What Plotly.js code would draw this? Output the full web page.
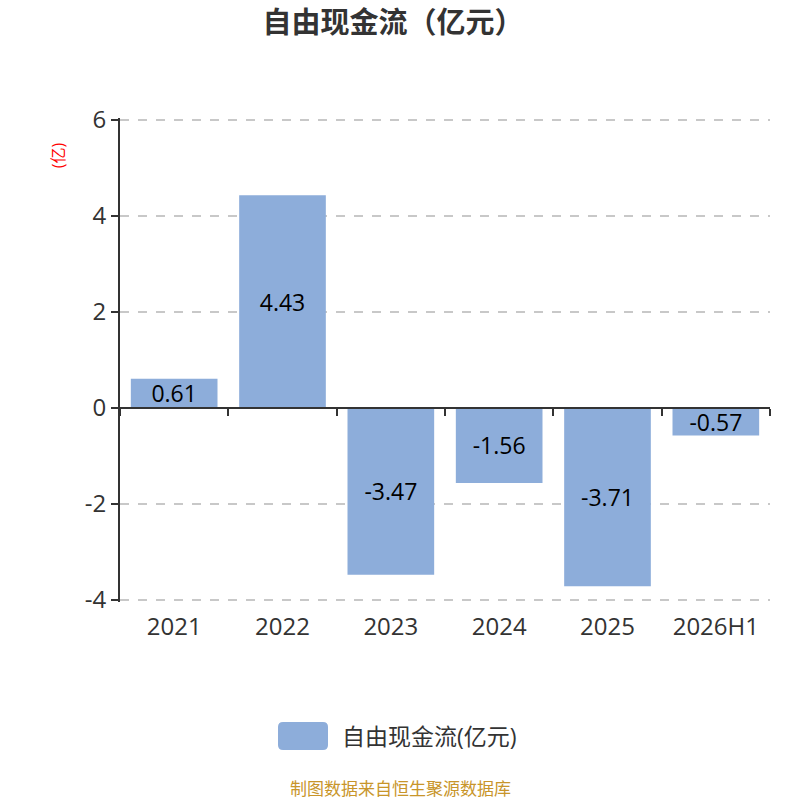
<!DOCTYPE html>
<html><head><meta charset="utf-8">
<script src="https://cdn.plot.ly/plotly-3.0.1.min.js"></script>
<style>html,body{margin:0;padding:0;background:#fff}#chart{width:800px;height:800px}</style>
</head><body><div id="chart"></div>
<script>
const categories = ["2021","2022","2023","2024","2025","2026H1"];
const values = [0.61, 4.43, -3.47, -1.56, -3.71, -0.57];
const labels = ["0.61","4.43","-3.47","-1.56","-3.71","-0.57"];
const seriesName = "自由现金流(亿元)";
const chartTitle = "自由现金流（亿元）";
const yUnit = "(亿)";
const footer = "制图数据来自恒生聚源数据库";
const yTicks = [-4,-2,0,2,4,6];

const FONT = "Open Sans, Noto Sans CJK SC, sans-serif";
const barColor = "#8DADDA";

const traces = [
  {
    type: "bar", x: categories, y: values, name: seriesName,
    marker: {color: barColor},
    text: labels, textposition: "inside", insidetextanchor: "middle", constraintext: "none",
    textfont: {size: 23, color: "#000", family: FONT},
    hoverinfo: "skip", cliponaxis: false, showlegend: false
  },
  {
    type: "bar", x: categories, y: values, xaxis: "x2", yaxis: "y",
    marker: {color: "rgba(0,0,0,0)"}, showlegend: false, hoverinfo: "skip"
  }
];

// legend swatch geometry (paper units)
const PH = 484, PT = 118;
const py = p => (PT + PH - p) / PH;
const lx0 = 0.2431, lx1 = 0.32, ly0 = py(750), ly1 = py(722), rx = 0.0077, ry = 5 / PH;
const swatchPath = `M ${lx0+rx} ${ly1} L ${lx1-rx} ${ly1} Q ${lx1} ${ly1} ${lx1} ${ly1-ry} L ${lx1} ${ly0+ry} Q ${lx1} ${ly0} ${lx1-rx} ${ly0} L ${lx0+rx} ${ly0} Q ${lx0} ${ly0} ${lx0} ${ly0+ry} L ${lx0} ${ly1-ry} Q ${lx0} ${ly1} ${lx0+rx} ${ly1} Z`;

const layout = {
  width: 800, height: 800,
  margin: {l: 120, r: 30, t: PT, b: 800 - PT - PH},
  paper_bgcolor: "#fff", plot_bgcolor: "#fff",
  font: {family: FONT, color: "#333"},
  title: {text: chartTitle, x: 0.4913, xanchor: "center", y: 0.972, yanchor: "middle",
          font: {size: 29, color: "#333", family: FONT, weight: "bold"}},
  bargap: 0.2,
  barmode: "overlay",
  showlegend: false,
  xaxis: {
    type: "category", showline: false, ticks: "", showgrid: false, zeroline: false,
    tickfont: {size: 24, color: "#333", family: FONT}, ticklabelstandoff: 8
  },
  xaxis2: {
    type: "category", matches: "x", overlaying: "x", anchor: "free", position: 4.04 / 10.08,
    showline: true, linecolor: "#333", linewidth: 2,
    ticks: "outside", tickson: "boundaries", ticklen: 7, tickwidth: 2, tickcolor: "#333",
    showticklabels: false, showgrid: false, zeroline: false
  },
  yaxis: {
    range: [-4.04, 6.04], tickvals: yTicks, ticktext: yTicks.map(String),
    showline: true, linecolor: "#333", linewidth: 2,
    ticks: "outside", ticklen: 7, tickwidth: 2, tickcolor: "#333",
    showgrid: true, gridcolor: "#c8c8c8", griddash: "dash", gridwidth: 1.5,
    zeroline: false,
    tickfont: {size: 24, color: "#333", family: FONT}
  },
  shapes: [
    {type: "path", xref: "paper", yref: "paper", path: swatchPath,
     fillcolor: barColor, line: {width: 0}}
  ],
  annotations: [
    {text: yUnit, xref: "paper", yref: "paper", x: -0.095, y: py(155), xanchor: "center", yanchor: "middle",
     textangle: -90, showarrow: false, font: {size: 16, color: "#ff0000", family: FONT}},
    {text: seriesName, xref: "paper", yref: "paper", x: 0.3385, y: py(736), xanchor: "left", yanchor: "middle",
     showarrow: false, font: {size: 23, color: "#333", family: FONT}},
    {text: footer, xref: "paper", yref: "paper", x: 0.4308, y: py(789), xanchor: "center", yanchor: "middle",
     showarrow: false, font: {size: 17, color: "#c8952a", family: FONT}}
  ]
};

Plotly.newPlot("chart", traces, layout, {displayModeBar: false, staticPlot: true});
</script></body></html>
